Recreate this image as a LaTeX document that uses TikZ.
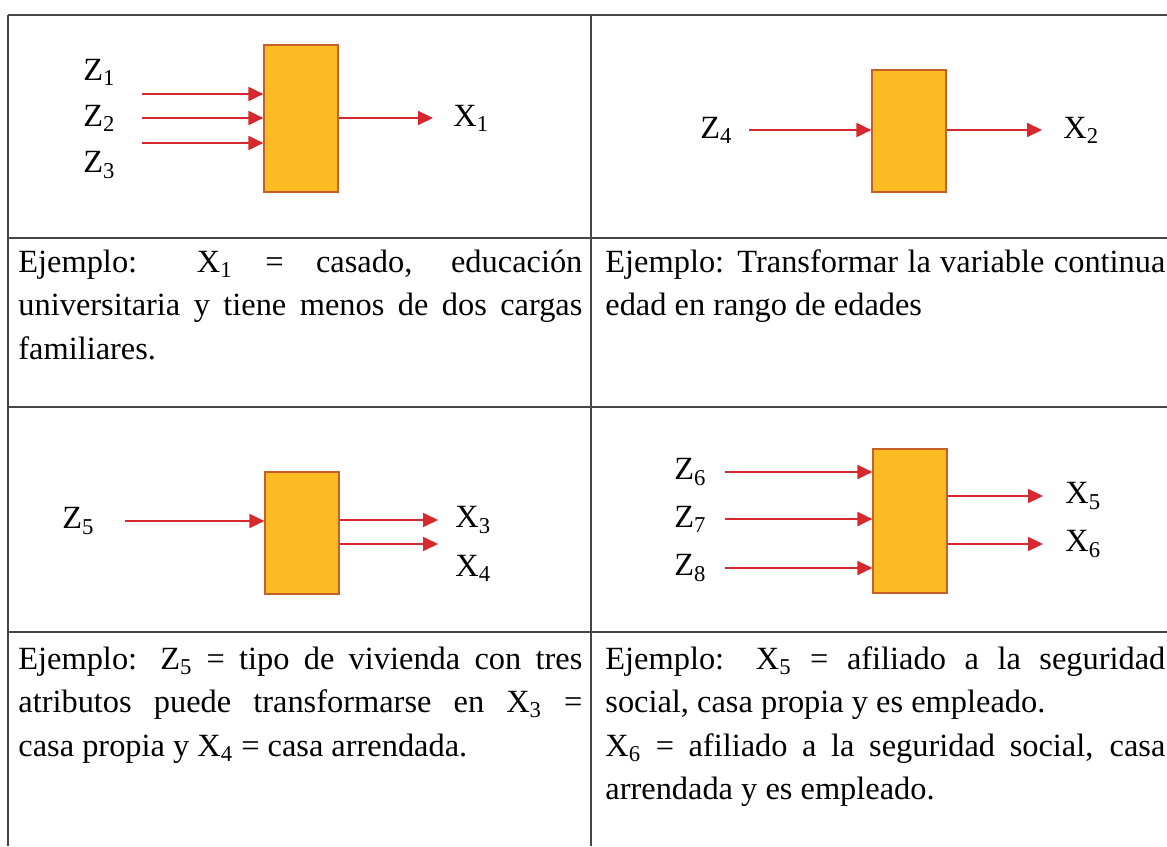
\documentclass[tikz,border=0pt]{standalone}
\usepackage{fontspec}
\setmainfont{Liberation Serif}
\usepackage{tikz}
\definecolor{boxorange}{RGB}{253,187,35}
\definecolor{boxrand}{RGB}{200,95,40}
\definecolor{pfeilrot}{RGB}{215,40,45}
\definecolor{liniengrau}{RGB}{70,70,70}
\usetikzlibrary{arrows.meta}

\begin{document}
\begin{tikzpicture}[x=0.5pt, y=-0.5pt,
			>={Triangle[length=7.5pt,width=7pt]},   %Pfeilspitzen
			kasten/.style={draw=boxrand, fill=boxorange, line width=0.6pt, minimum width=37pt, inner sep=0pt},
			pfeil/.style={->, draw=pfeilrot, line width=1pt},
			var/.style={anchor=west, inner sep=0pt},
			beispiel/.style={anchor=base west, inner sep=0pt, align=justify},
			font={\fontsize{16.2pt}{21.75pt}\selectfont}]
			\useasboundingbox (0,0) rectangle (1167,846);
			%Tabelle zeichnen
			\draw[liniengrau, line width=0.9pt] (8,15) -- (1167,15);
			\foreach \y in {238,407,632} \draw[liniengrau, line width=0.9pt] (8,\y) -- (1167,\y);
			\foreach \x in {8,591} \draw[liniengrau, line width=0.9pt] (\x,15) -- (\x,846);
			%Kaesten
			\node[kasten, minimum height=73.5pt] (k1) at (301,118.5) {};
			\node[kasten, minimum height=61pt] (k2) at (909,131) {};
			\node[kasten, minimum height=61pt] (k3) at (302,533) {};
			\node[kasten, minimum height=72pt] (k4) at (910,521) {};
			%Feld 1: drei Eingaenge, ein Ausgang
			\node[var] (z1) at (83,72) {Z\textsubscript{1}};
			\node[var] (z2) at (83,118) {Z\textsubscript{2}};
			\node[var] (z3) at (83,165) {Z\textsubscript{3}};
			\foreach \n/\y in {1/94,2/118,3/143} {
				\coordinate (e\n) at (142,\y);
				\draw[pfeil] (e\n) -- (e\n -| k1.west);
			}
			\coordinate (a1) at (433,118);
			\draw[pfeil] (k1.east |- a1) -- (a1);
			\node[var] (x1) at (453,118) {X\textsubscript{1}};
			%Feld 2: ein Eingang, ein Ausgang
			\node[var] (z4) at (700,130) {Z\textsubscript{4}};
			\coordinate (e4) at (749,130);
			\draw[pfeil] (e4) -- (e4 -| k2.west);
			\coordinate (a2) at (1042,130);
			\draw[pfeil] (k2.east |- a2) -- (a2);
			\node[var] (x2) at (1063,130) {X\textsubscript{2}};
			%Feld 3: ein Eingang, zwei Ausgaenge
			\node[var] (z5) at (62,521) {Z\textsubscript{5}};
			\coordinate (e5) at (125,521);
			\draw[pfeil] (e5) -- (e5 -| k3.west);
			\foreach \n/\y in {3/520,4/544} {
				\coordinate (a\n) at (438,\y);
				\draw[pfeil] (k3.east |- a\n) -- (a\n);
			}
			\node[var] (x3) at (455,520) {X\textsubscript{3}};
			\node[var] (x4) at (455,568) {X\textsubscript{4}};
			%Feld 4: drei Eingaenge, zwei Ausgaenge
			\foreach \n/\y in {6/472,7/519,8/568} {
				\node[var] (z\n) at (674,\y) {Z\textsubscript{\n}};
				\coordinate (e\n) at (725,\y);
				\draw[pfeil] (e\n) -- (e\n -| k4.west);
			}
			\foreach \n/\y in {5/496,6/544} {
				\coordinate (a\n) at (1043,\y);
				\draw[pfeil] (k4.east |- a\n) -- (a\n);
				\node[var] (x\n) at (1065,\y) {X\textsubscript{\n}};
			}
			%Beispiele
			\node[beispiel, text width=282pt] (t1) at (18,272) {Ejemplo: X\textsubscript{1} = casado, educación\linebreak universitaria y tiene menos de dos cargas\linebreak familiares.};
			\node[beispiel, text width=280pt] (t2) at (605,272) {Ejemplo: Transformar la variable continua\linebreak edad en rango de edades};
			\node[beispiel, text width=282pt] (t3) at (18,669) {Ejemplo: Z\textsubscript{5} = tipo de vivienda con tres\linebreak atributos puede transformarse en X\textsubscript{3} =\linebreak casa propia y X\textsubscript{4} = casa arrendada.};
			\node[beispiel, text width=280pt] (t4) at (605,669) {Ejemplo: X\textsubscript{5} = afiliado a la seguridad\linebreak social, casa propia y es empleado.\par X\textsubscript{6} = afiliado a la seguridad social, casa\linebreak arrendada y es empleado.};
		\end{tikzpicture}
\end{document}
